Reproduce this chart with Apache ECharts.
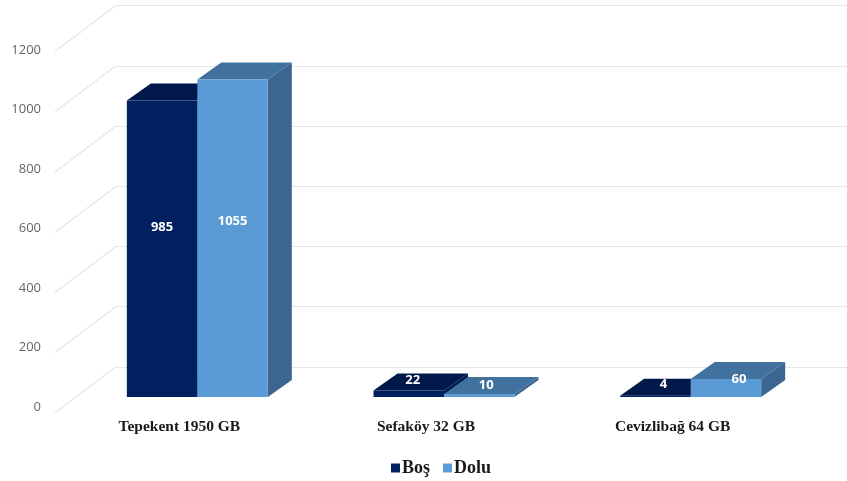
<!DOCTYPE html>
<html><head><meta charset="utf-8">
<style>html,body{margin:0;padding:0;background:#fff}#c{width:847px;height:481px}</style>
<script src="https://cdn.jsdelivr.net/npm/echarts@6/dist/echarts.min.js"></script>
</head><body><div id="c"></div>
<script>
const categories = ['Tepekent 1950 GB', 'Sefaköy 32 GB', 'Cevizlibağ 64 GB'];
const bosValues = [985, 22, 4];
const doluValues = [1055, 10, 60];
const yTicks = [0, 200, 400, 600, 800, 1000, 1200];

const DEPTH_X = 24, DEPTH_Y = 17, DIAG_X = 61, DIAG_Y = 46, BAR_W = 70.5;
const FONT_SERIF = '"Liberation Serif", serif';
const FONT_SANS = '"Open Sans", sans-serif';
// label placement relative to the bar's front-face centre, per category
const nudge = {
  'Boş':  [[0, -21], [4, -13], [8, -12]],
  'Dolu': [[0, -17], [7, -10], [13, -9]]
};

function barRenderer(name, side, colors) {
  return function (params, api) {
    const i = api.value(0), v = api.value(1);
    const c = api.coord([i, v]), b = api.coord([i, 0]);
    const x0 = side < 0 ? c[0] - BAR_W : c[0], x1 = x0 + BAR_W;
    const top = c[1], bot = b[1];
    const n = nudge[name][i];
    return { type: 'group', children: [
      { type: 'polygon', shape: { points: [[x0, top], [x0 + DEPTH_X, top - DEPTH_Y], [x1 + DEPTH_X, top - DEPTH_Y], [x1, top]] }, style: { fill: colors.top } },
      { type: 'polygon', shape: { points: [[x1, top], [x1 + DEPTH_X, top - DEPTH_Y], [x1 + DEPTH_X, bot - DEPTH_Y], [x1, bot]] }, style: { fill: colors.side } },
      { type: 'rect', shape: { x: x0, y: top, width: BAR_W, height: bot - top }, style: { fill: colors.front } },
      { type: 'text', z2: 10, style: { text: String(v), x: (x0 + x1) / 2 + n[0], y: (top + bot) / 2 + n[1], fill: '#fff',
        font: 'bold 13px ' + FONT_SANS, align: 'center', verticalAlign: 'middle' } }
    ]};
  };
}

const chart = echarts.init(document.getElementById('c'));
chart.setOption({
  animation: false,
  backgroundColor: '#fff',
  legend: {
    left: 386, top: 454, itemWidth: 9, itemHeight: 9, itemGap: 13, icon: 'rect',
    data: ['Boş', 'Dolu'],
    textStyle: { fontFamily: FONT_SERIF, fontWeight: 'bold', fontSize: 18, color: '#1a1a1a', padding: [0, 0, 0, -3] }
  },
  grid: [
    { left: 116, right: 0, top: 5.6, height: 361.2 },   // back wall
    { left: 50, width: 10, top: 50, height: 357 },      // tick labels
    { left: 74, width: 740, top: 35.8, height: 361.2 }  // bars
  ],
  xAxis: [
    { gridIndex: 0, type: 'value', min: 0, max: 1, show: false },
    { gridIndex: 1, type: 'value', min: 0, max: 1, show: false },
    { gridIndex: 2, type: 'category', data: categories, axisLine: { show: false }, axisTick: { show: false },
      axisLabel: { margin: 22, padding: [0, 36, 0, 0], fontFamily: FONT_SERIF, fontWeight: 'bold', fontSize: 15.5, color: '#1a1a1a' } }
  ],
  yAxis: [
    { gridIndex: 0, type: 'value', min: 0, max: 1200, interval: 200, axisLabel: { show: false },
      axisLine: { show: false }, axisTick: { show: false }, splitLine: { lineStyle: { color: '#e6e6e6', width: 1 } } },
    { gridIndex: 1, type: 'value', min: 0, max: 1200, interval: 200, axisLine: { show: false }, axisTick: { show: false },
      splitLine: { show: false }, axisLabel: { margin: 9, fontFamily: FONT_SANS, fontSize: 13, color: '#666', formatter: v => String(v) } },
    { gridIndex: 2, type: 'value', min: 0, max: 1200, interval: 200, show: false, splitLine: { show: false } }
  ],
  series: [
    { type: 'custom', xAxisIndex: 0, yAxisIndex: 0, silent: true, clip: false, z: 1,
      data: yTicks.map(t => [0, t]), encode: { x: 0, y: 1 },
      renderItem: (p, api) => {
        const c = api.coord([0, api.value(1)]);
        return { type: 'line', shape: { x1: c[0], y1: c[1], x2: c[0] - DIAG_X, y2: c[1] + DIAG_Y },
          style: { stroke: '#e6e6e6', lineWidth: 1.2 } };
      } },
    { name: 'Boş', type: 'custom', xAxisIndex: 2, yAxisIndex: 2, clip: false, z: 3,
      itemStyle: { color: '#002060' }, data: bosValues.map((v, i) => [i, v]), encode: { x: 0, y: 1 },
      renderItem: barRenderer('Boş', -1, { front: '#002060', top: '#00184a', side: '#001a50' }) },
    { name: 'Dolu', type: 'custom', xAxisIndex: 2, yAxisIndex: 2, clip: false, z: 4,
      itemStyle: { color: '#5b9bd5' }, data: doluValues.map((v, i) => [i, v]), encode: { x: 0, y: 1 },
      renderItem: barRenderer('Dolu', 1, { front: '#5b9bd5', top: '#41719f', side: '#3c6690' }) }
  ]
});
</script></body></html>
